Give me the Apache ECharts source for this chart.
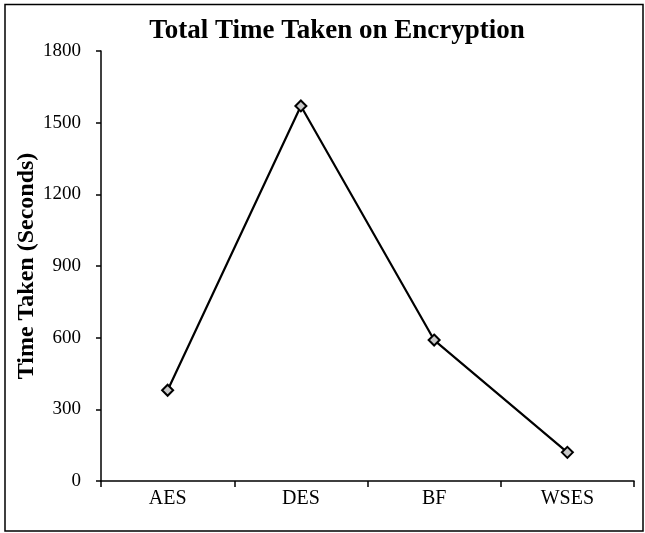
<!DOCTYPE html>
<html>
<head>
<meta charset="utf-8">
<script src="https://cdn.jsdelivr.net/npm/echarts@6/dist/echarts.min.js"></script>
<style>html,body{margin:0;padding:0;background:#fff}#c{width:645px;height:533px}</style>
</head>
<body>
<div id="c"></div>
<script>
const categories = ['AES', 'DES', 'BF', 'WSES'];
const timeTaken = [380, 1570, 590, 120];
const yTicks = [0, 300, 600, 900, 1200, 1500, 1800];

const chart = echarts.init(document.getElementById('c'), null, {renderer: 'canvas'});
const serif = '"Liberation Serif", "DejaVu Serif", serif';
chart.setOption({
  animation: false,
  backgroundColor: '#fff',
  title: {
    text: 'Total Time Taken on Encryption',
    left: 332, top: 13, textAlign: 'center',
    textStyle: {fontFamily: serif, fontSize: 27, fontWeight: 'bold', color: '#000'}
  },
  graphic: [{
    type: 'rect', shape: {x: 5, y: 4.5, width: 638, height: 526.5},
    style: {fill: 'none', stroke: '#000', lineWidth: 1.5}, silent: true, z: -1
  }],
  grid: {left: 101, right: 11, top: 51, bottom: 52},
  xAxis: {
    type: 'category', data: categories, boundaryGap: true,
    axisLine: {lineStyle: {color: '#000', width: 1.5}},
    axisTick: {show: true, length: 6, inside: false, lineStyle: {color: '#000', width: 1.5}},
    axisLabel: {fontFamily: serif, fontSize: 20, color: '#000', margin: 8},
    splitLine: {show: false}
  },
  yAxis: {
    type: 'value', min: yTicks[0], max: yTicks[yTicks.length - 1], interval: 300,
    name: 'Time Taken (Seconds)', nameLocation: 'middle', nameGap: 62, nameRotate: 90,
    nameMoveOverlap: false,
    nameTextStyle: {fontFamily: serif, fontSize: 24, fontWeight: 'bold', color: '#000'},
    axisLine: {show: true, lineStyle: {color: '#000', width: 1.5}},
    axisTick: {show: true, length: 5, lineStyle: {color: '#000', width: 1.5}},
    axisLabel: {fontFamily: serif, fontSize: 19, color: '#000', margin: 20,
      formatter: v => String(v)},
    splitLine: {show: false}
  },
  series: [{
    type: 'line', data: timeTaken,
    symbol: 'diamond', symbolSize: 11,
    itemStyle: {color: '#c8c8c8', borderColor: '#000', borderWidth: 2},
    lineStyle: {color: '#000', width: 2.2}
  }]
});
</script>
</body>
</html>
